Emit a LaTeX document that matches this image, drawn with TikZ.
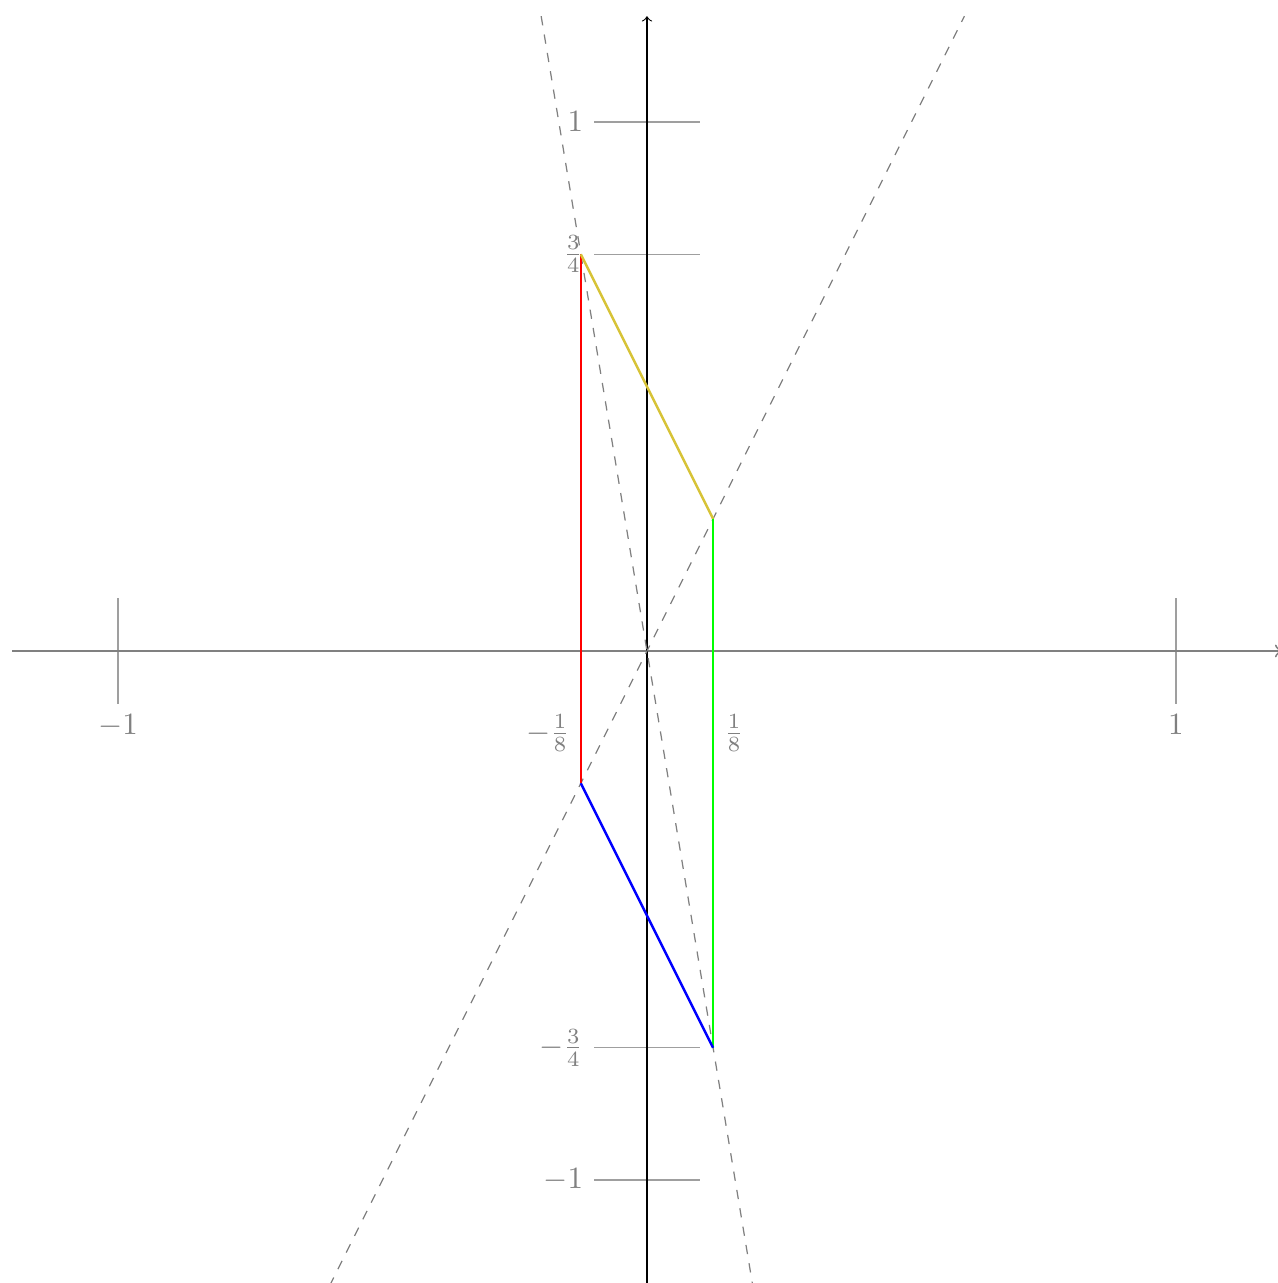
\documentclass[tikz,border=0pt]{standalone}
\begin{document}
\begin{tikzpicture}[x=6cm,y=6cm,
  tick/.style={gray!75, line width=0.4pt},
  lab/.style={text=gray, inner sep=0.333em},
  guide/.style={gray, dashed, line width=0.4pt},
  edge/.style={thick}]
\useasboundingbox (-1.2230,-1.1947) rectangle (1.1928,1.2306);
\definecolor{goldy}{RGB}{215,195,55}
% coordinates
\coordinate (xl) at (-1.2,0);
\coordinate (xr) at (1.2,0);
\coordinate (yb) at (0,-1.2);
\coordinate (yt) at (0,1.2);
\coordinate (g1a) at (-0.6,-1.2);
\coordinate (g1b) at (0.6,1.2);
\coordinate (g2a) at (-0.2,1.2);
\coordinate (g2b) at (0.2,-1.2);
\coordinate (A) at (-1/8,3/4);
\coordinate (B) at (1/8,1/4);
\coordinate (C) at (1/8,-3/4);
\coordinate (D) at (-1/8,-1/4);
% ticks
\foreach \x/\n in {-1/m1,1/p1}{
  \coordinate (xt\n a) at (\x,-0.1);
  \coordinate (xt\n b) at (\x,0.1);
  \draw[tick] (xt\n a) -- (xt\n b);
}
\foreach \y/\n in {1/p1,0.75/p34,-0.75/m34,-1/m1}{
  \coordinate (yt\n a) at (-0.1,\y);
  \coordinate (yt\n b) at (0.1,\y);
  \draw[tick] (yt\n a) -- (yt\n b);
}
% axes
\draw[gray, semithick, ->] (xl) -- (xr);
\draw[black, line width=0.35pt, ->] (yb) -- (yt);
% guide lines
\draw[guide] (g1a) -- (g1b);
\draw[guide] (g2a) -- (g2b);
% labels
\node[lab, below] (lxm1) at (xtm1a) {$-1$};
\node[lab, below] (lxp1) at (xtp1a) {$1$};
\coordinate (f1) at (-1/8,-0.1);
\coordinate (f2) at (1/8,-0.1);
\node[lab, below left] (lfm) at (f1) {$-\frac{1}{8}$};
\node[lab, below right] (lfp) at (f2) {$\frac{1}{8}$};
\node[lab, left] (ly1) at (ytp1a) {$1$};
\node[lab, left] (ly34) at (ytp34a) {$\frac{3}{4}$};
\node[lab, left] (lym34) at (ytm34a) {$-\frac{3}{4}$};
\node[lab, left] (lym1) at (ytm1a) {$-1$};
% polygon
\draw[edge, red] (A) -- (D);
\draw[edge, goldy] (A) -- (B);
\draw[edge, green] (B) -- (C);
\draw[edge, blue] (D) -- (C);
\end{tikzpicture}
\end{document}
